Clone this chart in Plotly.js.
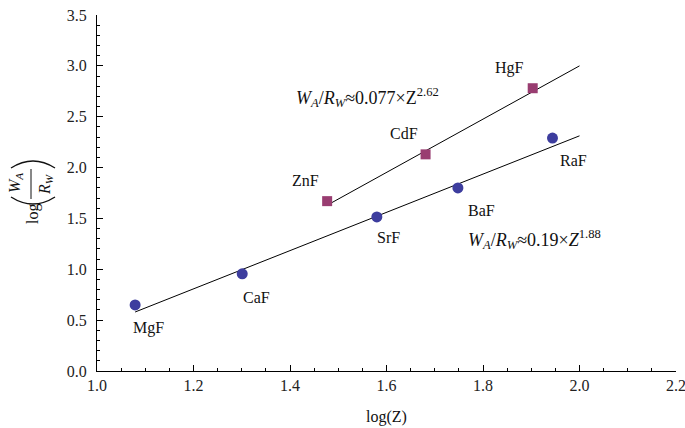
<!DOCTYPE html>
<html>
<head>
<meta charset="utf-8">
<script src="https://cdn.plot.ly/plotly-3.0.1.min.js"></script>
<style>html,body{margin:0;padding:0;background:#fff;}#chart{width:685px;height:428px;}</style>
</head>
<body>
<div id="chart"></div>
<script>
// Alkaline-earth monofluorides (blue circles)
var groupANames = ["MgF", "CaF", "SrF", "BaF", "RaF"];
var groupALogZ  = [1.079, 1.301, 1.580, 1.748, 1.944];
var groupALogW  = [0.65, 0.955, 1.515, 1.80, 2.29];
// Group 12 monofluorides (magenta squares)
var groupBNames = ["ZnF", "CdF", "HgF"];
var groupBLogZ  = [1.477, 1.681, 1.903];
var groupBLogW  = [1.67, 2.13, 2.78];
// Fit lines (endpoints)
var fitAX = [1.079, 2.0];
var fitAY = [0.58, 2.312];
var fitBX = [1.477, 2.0];
var fitBY = [1.63, 3.0];
// Equation labels
var eqTexts = ["<i>W</i><sub><i>A</i></sub>/<i>R</i><sub><i>W</i></sub>≈0.077×Z<sup>2.62</sup>",
               "<i>W</i><sub><i>A</i></sub>/<i>R</i><sub><i>W</i></sub>≈0.19×<i>Z</i><sup>1.88</sup>"];
var eqX = [1.56, 1.906];
var eqY = [2.69, 1.29];

var serif = "Liberation Serif";
var blue = "#3d3d9e";
var magenta = "#993d71";
var FS = 16;

var traces = [
  {x: fitAX, y: fitAY, mode: "lines", line: {color: "#000", width: 1}, hoverinfo: "skip"},
  {x: fitBX, y: fitBY, mode: "lines", line: {color: "#000", width: 1}, hoverinfo: "skip"},
  {x: groupALogZ, y: groupALogW, mode: "markers", marker: {symbol: "circle", size: 11, color: blue}},
  {x: groupBLogZ, y: groupBLogW, mode: "markers", marker: {symbol: "square", size: 10, color: magenta}}
];

var annotations = [];
var shiftA = [[13, -23], [14, -24], [12, -21], [24, -23], [21, -22]];
var shiftB = [[-22, 21], [-22, 21], [-23, 20]];
groupANames.forEach(function (n, i) {
  annotations.push({x: groupALogZ[i], y: groupALogW[i], text: n, showarrow: false,
    xanchor: "center", yanchor: "middle",
    xshift: shiftA[i][0], yshift: shiftA[i][1], font: {family: serif, size: FS, color: "#111"}});
});
groupBNames.forEach(function (n, i) {
  annotations.push({x: groupBLogZ[i], y: groupBLogW[i], text: n, showarrow: false,
    xanchor: "center", yanchor: "middle",
    xshift: shiftB[i][0], yshift: shiftB[i][1], font: {family: serif, size: FS, color: "#111"}});
});
eqTexts.forEach(function (t, i) {
  annotations.push({x: eqX[i], y: eqY[i], text: t, showarrow: false,
    xanchor: "center", yanchor: "middle",
    font: {family: serif, size: 18, color: "#111"}});
});

// composite y-axis title: log( W_A / R_W ) rotated
var L = 97, T = 15, PW = 579, PH = 356;
function px(x) { return (x - L) / PW; }
function py(y) { return (T + PH - y) / PH; }
var yt = {family: serif, size: 16, color: "#111"};
function yAnn(x, y, text, font) {
  annotations.push({xref: "paper", yref: "paper", x: px(x), y: py(y), text: text, textangle: -90,
    showarrow: false, xanchor: "center", yanchor: "middle", font: font});
}
yAnn(33, 214, "log", yt);
yAnn(15, 183, "<i>W</i><sub><i>A</i></sub>", yt);
yAnn(45, 184, "<i>R</i><sub><i>W</i></sub>", yt);

function arc(x0, x1, yEnd, yCtrl) {
  return "M" + px(x0) + "," + py(yEnd) + " Q" + px((x0 + x1) / 2) + "," + py(yCtrl) + " " + px(x1) + "," + py(yEnd);
}

var layout = {
  width: 685, height: 428,
  margin: {l: L, r: 685 - L - PW, t: T, b: 428 - T - PH},
  paper_bgcolor: "#fff", plot_bgcolor: "#fff",
  showlegend: false,
  font: {family: serif, size: FS, color: "#222"},
  xaxis: {
    range: [1.0, 2.2], dtick: 0.2, tick0: 1.0, tickformat: ".1f",
    ticks: "inside", ticklen: 6, tickcolor: "#000", tickwidth: 1,
    showline: true, linecolor: "#000", linewidth: 1,
    showgrid: false, zeroline: false, ticklabeloverflow: "allow",
    minor: {dtick: 0.05, ticks: "inside", ticklen: 3, tickcolor: "#000", showgrid: false},
    tickfont: {family: serif, size: FS, color: "#222"},
    title: {text: "log(Z)", font: {family: serif, size: FS, color: "#111"}, standoff: 17}
  },
  yaxis: {
    range: [0, 3.5], dtick: 0.5, tick0: 0, tickformat: ".1f",
    ticks: "inside", ticklen: 6, tickcolor: "#000", tickwidth: 1,
    showline: true, linecolor: "#000", linewidth: 1,
    showgrid: false, zeroline: false, ticklabelstandoff: 6, ticklabeloverflow: "allow",
    minor: {dtick: 0.1, ticks: "inside", ticklen: 3, tickcolor: "#000", showgrid: false},
    tickfont: {family: serif, size: FS, color: "#222"}
  },
  shapes: [
    {type: "line", xref: "paper", yref: "paper", x0: px(31), x1: px(31), y0: py(169), y1: py(199),
     line: {color: "#111", width: 1}},
    {type: "path", xref: "paper", yref: "paper", path: arc(11, 55, 168, 154), line: {color: "#111", width: 1.4}},
    {type: "path", xref: "paper", yref: "paper", path: arc(11, 55, 197, 211), line: {color: "#111", width: 1.4}}
  ],
  annotations: annotations
};

Plotly.newPlot("chart", traces, layout, {staticPlot: true, displayModeBar: false});
</script>
</body>
</html>
